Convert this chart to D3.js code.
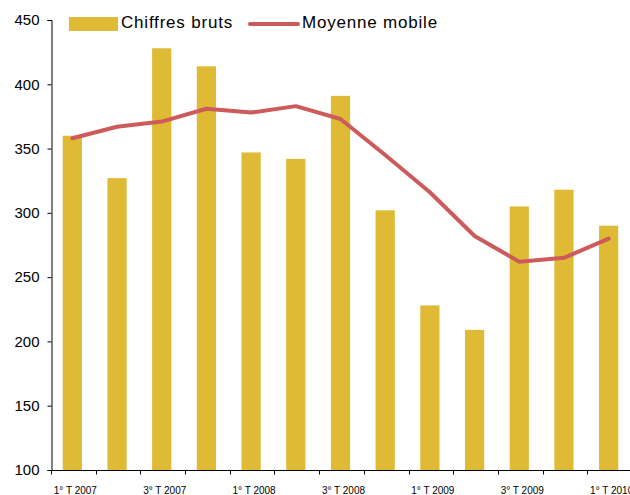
<!DOCTYPE html>
<html>
<head>
<meta charset="utf-8">
<script src="https://cdn.jsdelivr.net/npm/d3@7"></script>
<style>
    body { margin: 0; background: #fff; }
    svg { display: block; font-family: "Liberation Sans", Arial, sans-serif; }
</style>
</head>
<body>
<svg id="chart" width="630" height="495"></svg>
<script>
    // trimestres
    const quarters = [
        "1° T 2007", "2° T 2007", "3° T 2007", "4° T 2007",
        "1° T 2008", "2° T 2008", "3° T 2008", "4° T 2008",
        "1° T 2009", "2° T 2009", "3° T 2009", "4° T 2009",
        "1° T 2010",
    ];
    const rawValues = [360, 327, 428, 414, 347, 342, 391, 302, 228, 209, 305, 318, 290];
    const movingAvg = [358, 367, 371, 381, 378, 383, 373, 345, 316, 282, 262, 265, 280];
    const yTicks = [100, 150, 200, 250, 300, 350, 400, 450];
    const shownLabels = ["1° T 2007", "3° T 2007", "1° T 2008", "3° T 2008", "1° T 2009", "3° T 2009", "1° T 2010"];

    const barColor = "#dfba35",
        lineColor = "#cd5b5b";

    const svg = d3.select("#chart");

    const x = d3.scaleBand().domain(quarters).range([51, 632]).padding(0);
    const y = d3.scaleLinear().domain([100, 450]).range([470, 20]);
    const barW = x.bandwidth() * 0.43;
    const cx = (d) => x(d) + x.bandwidth() / 2 - 1;

    // barres
    svg.append("g")
        .selectAll("rect")
        .data(quarters)
        .join("rect")
        .attr("x", (d) => cx(d) - barW / 2)
        .attr("y", (d, i) => y(rawValues[i]))
        .attr("width", barW)
        .attr("height", (d, i) => y(100) - y(rawValues[i]))
        .attr("fill", barColor);

    // moyenne mobile
    const line = d3.line()
        .x((d, i) => cx(quarters[i]))
        .y((d) => y(d));
    svg.append("path")
        .datum(movingAvg)
        .attr("d", line)
        .attr("fill", "none")
        .attr("stroke", lineColor)
        .attr("stroke-width", 4)
        .attr("stroke-linejoin", "round")
        .attr("stroke-linecap", "round");

    // axe Y
    const yAxis = svg.append("g")
        .attr("transform", "translate(51.5,0)")
        .call(d3.axisLeft(y).tickValues(yTicks).tickSize(4).tickPadding(8));
    yAxis.select(".domain").attr("stroke", "#000");
    yAxis.selectAll(".tick line").attr("stroke", "#000");
    yAxis.selectAll(".tick text")
        .attr("font-size", 15)
        .attr("fill", "#000")
        .attr("font-family", "Liberation Sans, Arial, sans-serif");

    // axe X
    const xAxis = svg.append("g").attr("transform", "translate(0,470.5)");
    xAxis.append("line")
        .attr("x1", 51).attr("x2", 632)
        .attr("stroke", "#000");
    xAxis.selectAll("line.tk")
        .data(quarters)
        .join("line")
        .attr("class", "tk")
        .attr("x1", (d) => Math.round(x(d)) + 0.5)
        .attr("x2", (d) => Math.round(x(d)) + 0.5)
        .attr("y1", 0).attr("y2", 4)
        .attr("stroke", "#000");
    xAxis.selectAll("text")
        .data(shownLabels)
        .join("text")
        .attr("x", (d) => cx(d) + 3)
        .attr("y", 23.5)
        .attr("text-anchor", "middle")
        .attr("font-size", 10)
        .attr("fill", "#000")
        .text((d) => d);

    // légende
    const legend = svg.append("g");
    legend.append("rect")
        .attr("x", 69).attr("y", 17)
        .attr("width", 49).attr("height", 14)
        .attr("fill", barColor);
    legend.append("text")
        .attr("x", 121).attr("y", 28)
        .attr("font-size", 17)
        .attr("letter-spacing", 0.8)
        .text("Chiffres bruts");
    legend.append("line")
        .attr("x1", 250).attr("x2", 298)
        .attr("y1", 24).attr("y2", 24)
        .attr("stroke", lineColor)
        .attr("stroke-width", 4)
        .attr("stroke-linecap", "round");
    legend.append("text")
        .attr("x", 302).attr("y", 28)
        .attr("font-size", 17)
        .attr("letter-spacing", 0.8)
        .text("Moyenne mobile");
</script>
</body>
</html>
